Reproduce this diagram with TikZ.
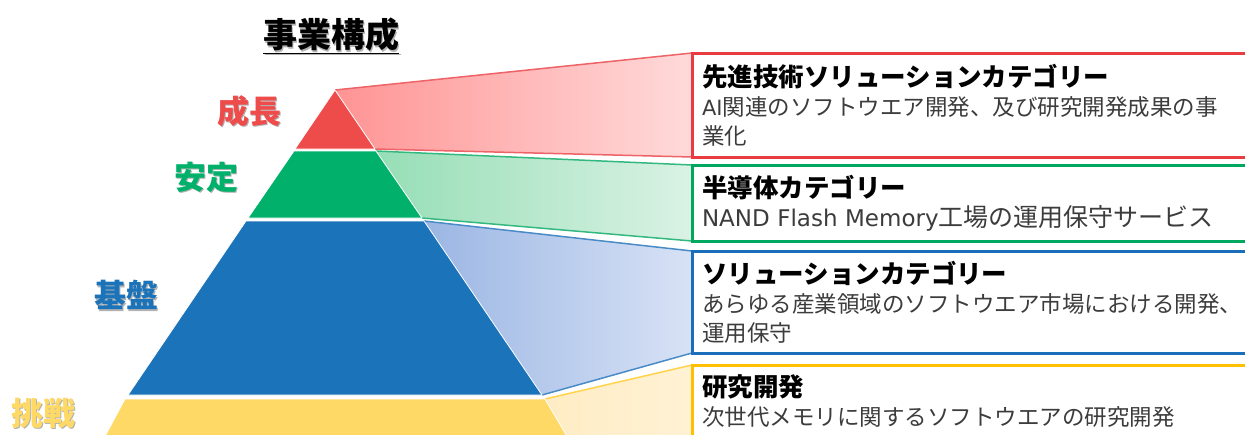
\documentclass[tikz,border=0pt]{standalone}
\usepackage{fontspec}
\newfontfamily\jpfont{Noto Sans CJK JP}
\newfontfamily\latfont{DejaVu Sans}
\usepackage{xcolor}
\definecolor{pyrred}{RGB}{238,75,75}
\definecolor{pyrgreen}{RGB}{0,176,107}
\definecolor{pyrblue}{RGB}{27,115,186}
\definecolor{pyryellow}{RGB}{255,217,102}
\definecolor{boxred}{RGB}{232,60,65}
\definecolor{boxgreen}{RGB}{0,168,95}
\definecolor{boxblue}{RGB}{27,110,185}
\definecolor{boxyellow}{RGB}{255,192,0}
\definecolor{fanredA}{RGB}{255,148,148}
\definecolor{fanredB}{RGB}{255,218,218}
\definecolor{fangreenA}{RGB}{150,222,182}
\definecolor{fangreenB}{RGB}{218,242,228}
\definecolor{fanblueA}{RGB}{155,182,228}
\definecolor{fanblueB}{RGB}{216,226,245}
\definecolor{fanyellowA}{RGB}{255,236,196}
\definecolor{fanyellowB}{RGB}{255,242,212}
\definecolor{bodygray}{RGB}{60,60,60}
\pgfdeclarelayer{background}
\pgfsetlayers{background,main}
\tikzset{
  layer/.style={fill=#1, draw=white, line width=0.8pt},
  fanedge/.style={draw=#1, line width=1.5pt},
  catbox/.style={rectangle, draw=#1, line width=3pt, fill=white, outer sep=0pt,
    anchor=north west, minimum width=600pt, text width=580pt, align=left,
    inner xsep=10pt, inner ysep=0pt, text=bodygray,
    font=\jpfont\fontsize{22.5}{29}\selectfont},
  pyrlabel/.style={text=#1, font=\jpfont\bfseries\fontsize{32}{36}\selectfont},
  lblshadow/.style={text=black!30, xshift=1.5pt, yshift=-1.5pt},
}
\newcommand\cattitle[1]{\textcolor{black}{\bfseries\fontsize{25.5}{29}\selectfont #1}}
\newcommand\lat[2][21]{{\latfont\fontsize{#1}{29}\selectfont #2}}
\newcommand\shadowlabel[4]{%
  \node[pyrlabel=#3, lblshadow] (#1-sh) at #2 {#4};
  \node[pyrlabel=#3] (#1) at #2 {#4};}

\begin{document}
\begin{tikzpicture}[x=1pt,y=-1pt]
  \useasboundingbox (0,0) rectangle (1245,434);

  % category boxes
  \node[catbox=boxred, minimum height=104pt] (redbox) at (692,53)
    {\cattitle{先進技術ソリューションカテゴリー}\\
     \lat{AI}関連のソフトウエア開発、及び研究開発成果の事\\業化};
  \node[catbox=boxgreen, minimum height=76pt] (greenbox) at (692,165)
    {\cattitle{半導体カテゴリー}\\
     {\fontsize{25}{29}\selectfont\lat[23]{NAND Flash Memory}工場の運用保守サービス}};
  \node[catbox=boxblue, minimum height=102pt] (bluebox) at (692,251)
    {\cattitle{ソリューションカテゴリー}\\
     あらゆる産業領域のソフトウエア市場における開発、\\運用保守};
  \node[catbox=boxyellow, minimum height=72pt] (yellowbox) at (692,365)
    {\cattitle{研究開発}\\
     次世代メモリに関するソフトウエアの研究開発};

  % pyramid corners
  \coordinate (apex) at (335,90);
  \coordinate (r-l) at (295,149);  \coordinate (r-r) at (375,149);
  \coordinate (g-tl) at (294,151); \coordinate (g-tr) at (376,151);
  \coordinate (g-bl) at (248,218); \coordinate (g-br) at (422,218);
  \coordinate (b-tl) at (246,221); \coordinate (b-tr) at (424,221);
  \coordinate (b-bl) at (128,395); \coordinate (b-br) at (542,395);
  \coordinate (y-tl) at (125,399); \coordinate (y-tr) at (545,399);
  \coordinate (y-bl) at (95,455);  \coordinate (y-br) at (578,455);

  % fans
  \begin{pgfonlayer}{background}
    \path[left color=fanredA, right color=fanredB]
      (apex) -- (redbox.north west) -- (redbox.south west) -- (r-r) -- cycle;
    \path[left color=fangreenA, right color=fangreenB]
      (g-tr) -- (greenbox.north west) -- (greenbox.south west) -- (g-br) -- cycle;
    \path[left color=fanblueA, right color=fanblueB]
      (b-tr) -- (bluebox.north west) -- (bluebox.south west) -- (b-br) -- cycle;
    \path[left color=fanyellowA, right color=fanyellowB]
      (y-tr) -- (yellowbox.north west) -- (yellowbox.south west) -- (y-br) -- cycle;
    \draw[fanedge=boxred!80] (apex) -- (redbox.north west) (r-r) -- (redbox.south west);
    \draw[fanedge=boxgreen!80] (g-tr) -- (greenbox.north west) (g-br) -- (greenbox.south west);
    \draw[fanedge=boxblue!80] (b-tr) -- (bluebox.north west) (b-br) -- (bluebox.south west);
    \draw[fanedge=boxyellow!70] (y-tr) -- (yellowbox.north west);
  \end{pgfonlayer}

  % pyramid
  \path[layer=pyrred] (apex) -- (r-r) -- (r-l) -- cycle;
  \path[layer=pyrgreen] (g-tl) -- (g-tr) -- (g-br) -- (g-bl) -- cycle;
  \path[layer=pyrblue] (b-tl) -- (b-tr) -- (b-br) -- (b-bl) -- cycle;
  \path[layer=pyryellow] (y-tl) -- (y-tr) -- (y-br) -- (y-bl) -- cycle;

  % labels
  \shadowlabel{seicho}{(249,111)}{pyrred}{成長}
  \shadowlabel{antei}{(206,177)}{pyrgreen}{安定}
  \shadowlabel{kiban}{(126,295)}{pyrblue}{基盤}
  \shadowlabel{chosen}{(43,413)}{pyryellow}{挑戦}
  \node[text=black!30, font=\jpfont\bfseries\fontsize{34}{38}\selectfont,
    xshift=1.5pt, yshift=-1.5pt] (title-sh) at (331,36) {\underline{事業構成}};
  \node[font=\jpfont\bfseries\fontsize{34}{38}\selectfont] (title) at (331,36)
    {\underline{事業構成}};
\end{tikzpicture}
\end{document}
